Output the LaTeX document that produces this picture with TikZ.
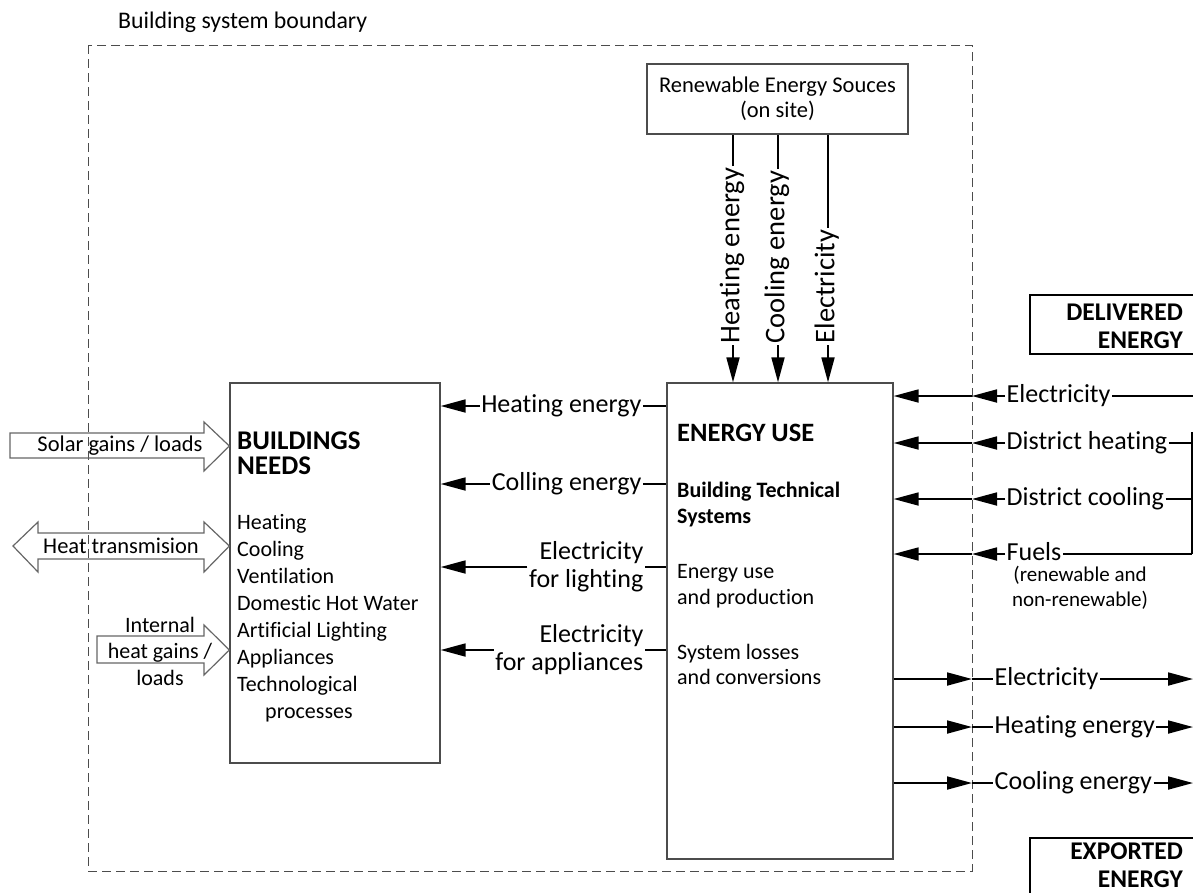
\documentclass[tikz,border=0pt]{standalone}
\usepackage{fontspec}
\setmainfont{Carlito}[Ligatures={NoCommon,NoContextual}]
\usetikzlibrary{arrows.meta}
\begin{document}
\begin{tikzpicture}[x=1pt,y=-1pt,
  box/.style={draw=black!70, line width=1.3pt, inner sep=0pt},
  ln/.style={line width=1.8pt, draw=black},
  arr/.style={ln, -{Triangle[length=25pt,width=13pt]}},
  barrow/.style={draw=black!60, line width=1.2pt, line join=miter},
  lbl/.style={inner sep=1.5pt, font=\fontsize{26}{28}\selectfont},
  sl/.style={text height=17pt, text depth=5pt},
  vlbl/.style={rotate=90, inner sep=1.5pt, font=\fontsize{28.5}{30}\selectfont, text height=18.5pt, text depth=6pt},
  bt/.style={inner sep=0pt, anchor=west, font=\fontsize{22}{26}\selectfont, text height=14.5pt, text depth=4.5pt},
  bth/.style={inner sep=0pt, anchor=west, font=\fontsize{27}{30}\selectfont\bfseries, text height=17.5pt, text depth=5pt},
  btb/.style={inner sep=0pt, anchor=west, font=\fontsize{22}{26}\selectfont\bfseries, text height=14.5pt, text depth=4.5pt},
  blk/.style={inner sep=0pt, font=\fontsize{22.5}{26}\selectfont},
  bigl/.style={inner sep=0pt, align=right, font=\fontsize{25.5}{28}\selectfont\bfseries},
]
\useasboundingbox (0,0) rectangle (1193,892);
\clip (0,0) rectangle (1193,892);

% system boundary
\draw[black!70, line width=1pt, dash pattern=on 9pt off 5pt] (88,45) rectangle (972,871);
\node[anchor=west, inner sep=0pt, font=\fontsize{23.8}{28}\selectfont] (title) at (118,22) {Building system boundary};

% main boxes
\node[box, minimum width=210pt, minimum height=380pt] (bn) at (335,573) {};
\node[box, minimum width=226pt, minimum height=476pt] (eu) at (780,621) {};
\node[box, minimum width=261pt, minimum height=70pt, align=center, font=\fontsize{22.5}{25}\selectfont] (res) at (777.5,99) {Renewable Energy Souces\\(on site)};

% buildings needs text
\node[bth] (bn1) at (237,443) {BUILDINGS};
\node[bth] (bn2) at (237,468) {NEEDS};
\foreach \t [count=\i from 0] in {Heating,Cooling,Ventilation,Domestic Hot Water,Artificial Lighting,Appliances,Technological}
  \node[bt] (bl\i) at (237,524+27*\i) {\t};
\node[bt] (bl7) at (265,713) {processes};

% energy use text
\node[bth, font=\fontsize{26.5}{30}\selectfont\bfseries] (eu1) at (677,435) {ENERGY USE};
\node[btb] (eu2) at (677,492) {Building Technical};
\node[btb] (eu3) at (677,518) {Systems};
\node[bt] (eu4) at (677,573) {Energy use};
\node[bt] (eu5) at (677,599) {and production};
\node[bt] (eu6) at (677,654) {System losses};
\node[bt] (eu7) at (677,679) {and conversions};

% renewable arrows
\foreach \x/\t/\n in {733/Heating energy/vh, 778/Cooling energy/vc, 828/Electricity/ve} {
  \node[vlbl, anchor=west] (\n) at (\x,345) {\t};
  \draw[ln] (\n.east) -- (\n.east |- res.south);
  \draw[arr] (\n.west) -- (\n.west |- eu.north);
}

% energy use -> building needs
\node[lbl, sl, anchor=east] (l1) at (643,406) {Heating energy};
\node[lbl, sl, anchor=east] (l2) at (643,484) {Colling energy};
\node[lbl, anchor=east, align=right] (l3) at (645,567) {Electricity\\for lighting};
\node[lbl, anchor=east, align=right] (l4) at (645,650) {Electricity\\for appliances};
\foreach \n in {l1,l2,l3,l4} {
  \draw[ln] (\n.east) -- (\n.east -| eu.west);
  \draw[arr] (\n.west) -- (\n.west -| bn.east);
}

% delivered energy
\node[box, draw=black, line width=1.5pt, minimum width=180pt, minimum height=59pt, anchor=north west] (delb) at (1029,294) {};
\node[bigl, anchor=east] (delt) at (1183,326) {DELIVERED\\ENERGY};
\foreach \y/\t/\n in {396/Electricity/d1, 443/District heating/d2, 499/District cooling/d3, 554/Fuels/d4} {
  \node[lbl, sl, anchor=west] (\n) at (1005,\y) {\t};
  \coordinate (b\n) at (972,\y);
  \draw[arr] (\n.west) -- (b\n);
  \draw[arr] (b\n) -- (b\n -| eu.east);
}
\coordinate (r1) at (1195,396);
\coordinate (bustop) at (1192,432);
\coordinate (busbot) at (1192,554);
\draw[ln] (d1.east) -- (r1);
\draw[ln] (d2.east) -- (d2.east -| bustop);
\draw[ln] (d3.east) -- (d3.east -| bustop);
\draw[ln] (d4.east) -- (busbot);
\draw[line width=1.5pt] (bustop) -- (busbot);
\node[align=center, inner sep=0pt, font=\fontsize{21}{25}\selectfont] (fnote) at (1080,588) {(renewable and\\non-renewable)};

% exported energy
\foreach \y/\t/\n in {679/Electricity/e1, 727/Heating energy/e2, 783/Cooling energy/e3} {
  \coordinate (b\n) at (972,\y);
  \coordinate (x\n) at (1193,\y);
  \node[lbl, sl, anchor=west] (\n) at (993,\y) {\t};
  \draw[arr] (b\n -| eu.east) -- (b\n);
  \draw[ln] (b\n) -- (\n.west);
  \draw[arr] (\n.east) -- (x\n);
}
\node[box, draw=black, line width=1.5pt, minimum width=180pt, minimum height=80pt, anchor=north west] (expb) at (1029,837) {};
\node[bigl, anchor=east] (expt) at (1183,865) {EXPORTED\\ENERGY};

% block arrows
\draw[barrow] (bn.west |- 0,446) coordinate (sTip) -- (204,471) -- (204,458) -- (10,458) -- (10,433) -- (204,433) -- (204,422) -- cycle;
\node[blk] (solar) at (120,446) {Solar gains / loads};
\draw[barrow] (bn.west |- 0,546) coordinate (hTip) -- (204,572) -- (204,559) -- (38,559) -- (38,572) -- (13,546) -- (38,522) -- (38,533) -- (204,533) -- (204,522) -- cycle;
\node[blk] (heat) at (121,546) {Heat transmision};
\draw[barrow] (bn.west |- 0,650) coordinate (iTip) -- (204,675) -- (204,663) -- (97,663) -- (97,636) -- (204,636) -- (204,625) -- cycle;
\node[blk, align=center, font=\fontsize{22}{26.5}\selectfont] (internal) at (160,651) {Internal\\heat gains /\\loads};
\end{tikzpicture}
\end{document}
